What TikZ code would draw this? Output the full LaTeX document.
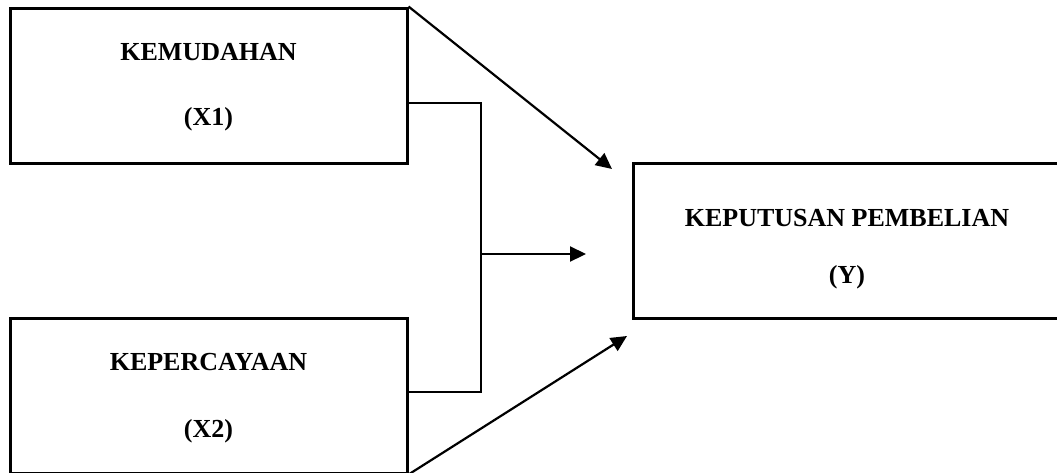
\documentclass[tikz,border=0pt]{standalone}
\usepackage{fontspec}
\setmainfont{Liberation Serif}
\usetikzlibrary{arrows.meta}

\begin{document}
\begin{tikzpicture}[x=1pt, y=-1pt,
    varbox/.style={draw, line width=3pt, minimum height=155pt, inner sep=0pt},
    vartext/.style={align=center, font=\bfseries\fontsize{26}{31}\selectfont},
    conn/.style={line width=2.2pt},
    arr/.style={conn, -{Triangle[length=16pt, width=15pt]}}]
    % page area; the boxes run past the right and bottom edge
    \clip (0,0) rectangle (1057,472);

    \node[varbox, minimum width=397pt] (x1) at (208.5,85.5) {};
    \node[varbox, minimum width=397pt] (x2) at (208.5,395.5) {};
    \node[varbox, minimum width=428pt] (y) at (847,240.5) {};

    \node[vartext] (x1text) at ([yshift=-2pt]x1.center) {KEMUDAHAN\\[34pt](X1)};
    \node[vartext] (x2text) at ([yshift=-3pt]x2.center) {KEPERCAYAAN\\[36pt](X2)};
    \node[vartext] (ytext) at ([yshift=-9pt]y.center) {KEPUTUSAN PEMBELIAN\\[26pt](Y)};

    % free ends of the arrows, just short of the Y box
    \coordinate (join) at (481,254);
    \coordinate (yin1) at (612,169);
    \coordinate (yin2) at (586,254);
    \coordinate (yin3) at (627,336);

    \draw[arr] (x1.north east) -- (yin1);
    \draw[arr] (x2.south east) -- (yin3);
    \draw[conn] ([yshift=-17.5pt]x1.east) -| (join) |- ([yshift=3.5pt]x2.east);
    \draw[arr] (join) -- (yin2);
\end{tikzpicture}
\end{document}
